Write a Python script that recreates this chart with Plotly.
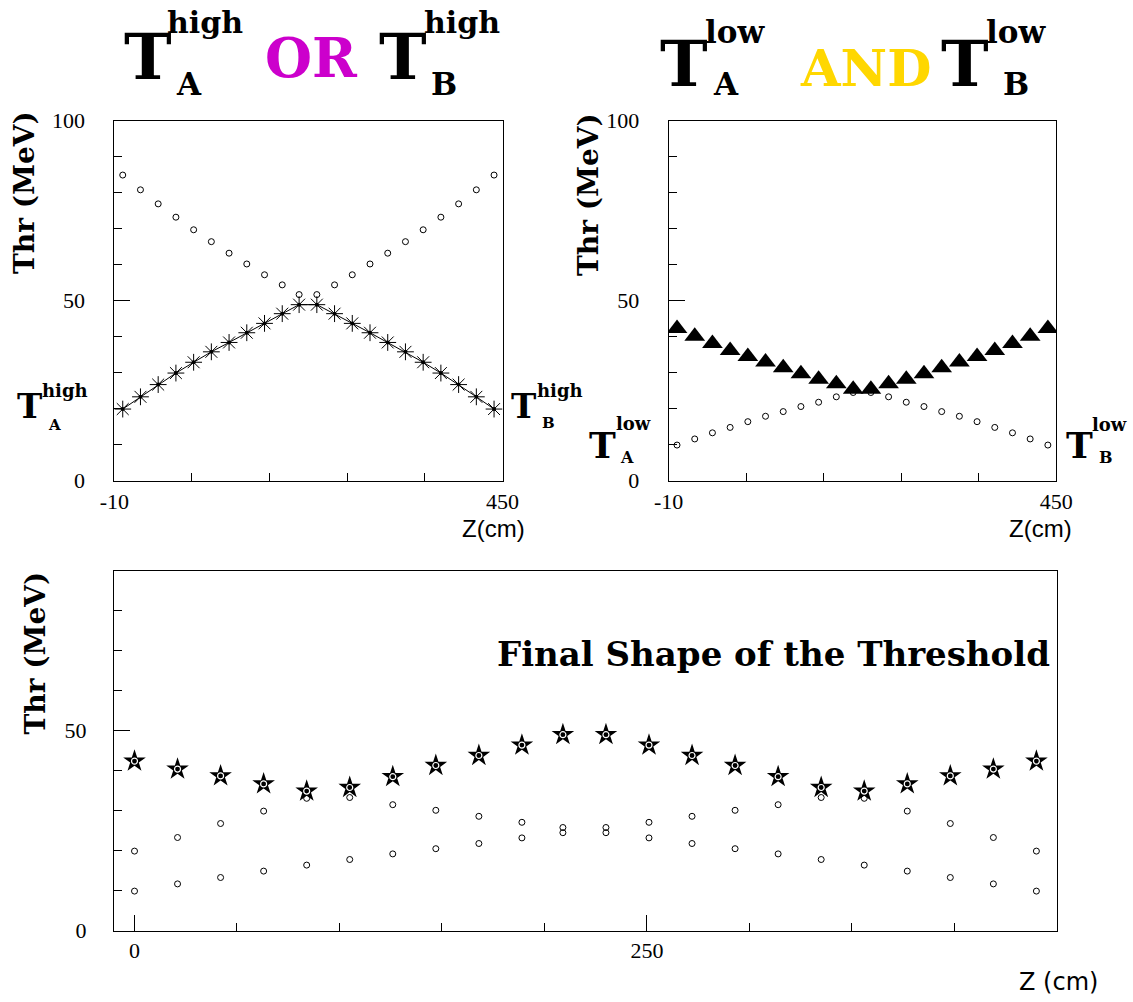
import plotly.graph_objects as go

W, H = 1133, 1002

# ---------------- data ----------------
z = [0, 21, 42, 63, 84, 105, 126, 147, 168, 189, 209, 230, 251, 272, 293, 314, 335, 356, 377, 398, 419, 440]

# top-left: T_A^high OR T_B^high
or_open = [84.9, 80.8, 76.9, 73.2, 69.7, 66.4, 63.2, 60.2, 57.2, 54.4, 51.7,
           51.7, 54.4, 57.2, 60.2, 63.2, 66.4, 69.7, 73.2, 76.9, 80.8, 84.9]
or_star = [19.9, 23.3, 26.7, 29.9, 32.9, 35.8, 38.4, 41.1, 43.7, 46.4, 48.9,
           48.9, 46.4, 43.7, 41.1, 38.4, 35.8, 32.9, 29.9, 26.7, 23.3, 19.9]

# top-right: T_A^low AND T_B^low
and_tri = [42.3, 40.1, 38.1, 36.2, 34.5, 33.0, 31.4, 29.7, 28.2, 26.9, 25.4,
           25.4, 26.9, 28.2, 29.7, 31.4, 33.0, 34.5, 36.2, 38.1, 40.1, 42.3]
and_open = [9.9, 11.6, 13.3, 14.8, 16.4, 17.9, 19.2, 20.6, 21.8, 23.3, 24.5,
            24.5, 23.3, 21.8, 20.6, 19.2, 17.9, 16.4, 14.8, 13.3, 11.6, 9.9]

# bottom: final shape
final_star = [42.4, 40.4, 38.7, 36.7, 34.9, 35.8, 38.5, 41.3, 43.8, 46.4, 49.0,
              49.0, 46.4, 43.8, 41.3, 38.5, 35.8, 34.9, 36.7, 38.7, 40.4, 42.4]
final_mid = [19.9, 23.3, 26.8, 29.9, 33.1, 33.3, 31.5, 30.1, 28.6, 27.1, 25.8,
             25.8, 27.1, 28.6, 30.1, 31.5, 33.3, 33.1, 29.9, 26.8, 23.3, 19.9]
final_low = [9.9, 11.7, 13.3, 14.9, 16.4, 17.8, 19.2, 20.5, 21.8, 23.2, 24.5,
             24.5, 23.2, 21.8, 20.5, 19.2, 17.8, 16.4, 14.9, 13.3, 11.7, 9.9]

top_xticks = [-10, 450]
top_yticks = [0, 50, 100]
bot_xticks = [0, 250]
bot_yticks = [0, 50]

SERIF = "Liberation Serif"
BSERIF = "DejaVu Serif"

# ---------------- figure ----------------
fig = go.Figure()

def circles(x, y, xa, ya):
    return go.Scatter(x=x, y=y, mode="markers", xaxis=xa, yaxis=ya, hoverinfo="skip",
                      marker=dict(symbol="circle-open", size=6, color="black", line=dict(width=1, color="black")))

# top-left
fig.add_trace(circles(z, or_open, "x", "y"))
fig.add_trace(go.Scatter(x=z, y=or_star, mode="lines+markers", xaxis="x", yaxis="y",
                         line=dict(color="black", width=1),
                         marker=dict(symbol="asterisk-open", size=14, color="black",
                                     line=dict(width=1, color="black"))))
fig.add_trace(go.Scatter(x=z, y=or_star, mode="markers", xaxis="x", yaxis="y",
                         marker=dict(symbol="circle", size=4, color="black")))

# top-right
fig.add_trace(circles(z, and_open, "x2", "y2"))
fig.add_trace(go.Scatter(x=z, y=and_tri, mode="markers", xaxis="x2", yaxis="y2",
                         marker=dict(symbol="triangle-up", size=18, color="black")))

# bottom
fig.add_trace(circles(z, final_low, "x3", "y3"))
fig.add_trace(circles(z, final_mid, "x3", "y3"))
fig.add_trace(go.Scatter(x=z, y=final_star, mode="markers", xaxis="x3", yaxis="y3",
                         marker=dict(symbol="star", size=17, color="black",
                                     line=dict(width=0, color="black"))))
fig.add_trace(go.Scatter(x=z, y=final_star, mode="markers", xaxis="x3", yaxis="y3",
                         marker=dict(symbol="circle-open", size=6, color="white",
                                     line=dict(width=1.2, color="white"))))

tickfont = dict(family=SERIF, size=22, color="black")

def xax(domain, anchor, tickvals, tick0, dtick, standoff):
    return dict(domain=domain, anchor=anchor, range=[-10, 450], showline=True, mirror=True,
                linecolor="black", linewidth=1, showgrid=False, zeroline=False, automargin=False,
                tickmode="array", tickvals=tickvals, ticktext=[str(v) for v in tickvals],
                ticks="inside", ticklen=16, tickcolor="black", tickwidth=1,
                tickfont=tickfont, ticklabelstandoff=standoff,
                minor=dict(ticks="inside", ticklen=8, tickcolor="black", tickwidth=1,
                           tickmode="linear", tick0=tick0, dtick=dtick, showgrid=False))

def yax(domain, anchor, rng, tickvals, standoff):
    return dict(domain=domain, anchor=anchor, range=rng, showline=True, mirror=True,
                linecolor="black", linewidth=1, showgrid=False, zeroline=False, automargin=False,
                tickmode="array", tickvals=tickvals, ticktext=[str(v) for v in tickvals],
                ticks="inside", ticklen=16, tickcolor="black", tickwidth=1,
                tickfont=tickfont, ticklabelstandoff=standoff,
                minor=dict(ticks="inside", ticklen=8, tickcolor="black", tickwidth=1,
                           tickmode="linear", tick0=0, dtick=10, showgrid=False))

top_y = [1 - 480.7 / H, 1 - 120.7 / H]
bot_y = [1 - 930.7 / H, 1 - 570.7 / H]

layout = dict(width=W, height=H, margin=dict(l=0, r=0, t=0, b=0, autoexpand=False),
              paper_bgcolor="white", plot_bgcolor="white", showlegend=False,
              font=dict(family=SERIF),
              xaxis=xax([114.3 / W, 502.5 / W], "y", top_xticks, -10, 92, 1),
              yaxis=yax(top_y, "x", [0, 100], top_yticks, 24),
              xaxis2=xax([668.6 / W, 1056.3 / W], "y2", top_xticks, -10, 92, 1),
              yaxis2=yax(top_y, "x2", [0, 100], top_yticks, 24),
              xaxis3=xax([114.0 / W, 1056.9 / W], "y3", bot_xticks, 0, 50, 0),
              yaxis3=yax(bot_y, "x3", [0, 90], bot_yticks, 22))
fig.update_layout(**layout)

anns = []
K = 0.346

def piece(text, left, baseline, size, color="black"):
    anns.append(dict(text=text, xref="paper", yref="paper", showarrow=False,
                     x=(left - 3) / W, y=1 - (baseline - K * size) / H,
                     xanchor="left", yanchor="middle",
                     font=dict(family=BSERIF, size=size, color=color, weight="bold")))

# top-left title
piece("T", 125, 78.3, 64)
piece("high", 168, 33, 30)
piece("A", 177, 95, 31)
piece("OR", 266, 77, 54, color="#cc00cc")
piece("T", 380, 78.3, 64)
piece("high", 425, 33, 30)
piece("B", 432, 95, 31)

# top-right title
piece("T", 660.5, 86, 64)
piece("low", 706, 43, 31)
piece("A", 713.5, 95, 31)
piece("AND", 800.5, 86, 51, color="#ffd700")
piece("T", 942, 86, 64)
piece("low", 987, 43, 31)
piece("B", 1004, 95, 31)

# side labels
piece("T", 18, 418, 34)
piece("high", 43, 397, 18)
piece("A", 49, 430, 15)
piece("T", 512, 418, 34)
piece("high", 538, 397, 18)
piece("B", 543, 428, 15)
piece("T", 590, 457, 36)
piece("low", 617, 430, 18)
piece("A", 621, 463, 16)
piece("T", 1067, 457, 36)
piece("low", 1093, 431, 18)
piece("B", 1100, 463, 16)

# bottom title
anns.append(dict(text="Final Shape of the Threshold", xref="paper", yref="paper", showarrow=False,
                 x=1052 / W, y=1 - (666 - K * 34) / H, xanchor="right", yanchor="middle",
                 font=dict(family=BSERIF, size=34, color="black", weight="bold")))

# y titles
for xc, yc in [(25, 193), (588, 195), (34.5, 653)]:
    anns.append(dict(text="Thr (MeV)", xref="paper", yref="paper", showarrow=False,
                     x=xc / W, y=1 - yc / H, xanchor="center", yanchor="middle", textangle=-90,
                     font=dict(family=BSERIF, size=28, color="black", weight="bold")))

# x titles
for xr, ym, txt, fam in [(527, 528, "Z(cm)", "Liberation Sans"),
                         (1074, 528, "Z(cm)", "Liberation Sans"),
                         (1100, 982, "Z (cm)", "DejaVu Sans")]:
    anns.append(dict(text=txt, xref="paper", yref="paper", showarrow=False,
                     x=xr / W, y=1 - ym / H, xanchor="right", yanchor="middle",
                     font=dict(family=fam, size=24, color="black")))

fig.update_layout(annotations=anns)
fig.write_html("out.html")
